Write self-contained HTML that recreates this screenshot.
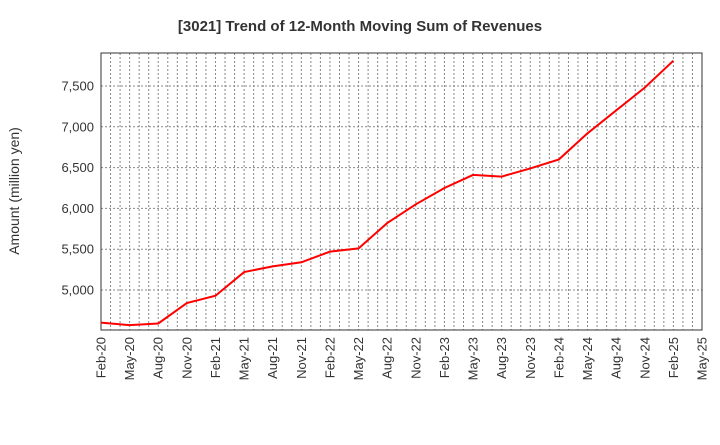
<!DOCTYPE html>
<html><head><meta charset="utf-8"><style>
body{margin:0;background:#fff;font-family:"Liberation Sans",sans-serif}
</style></head><body>
<svg id="chart" width="720" height="440" xmlns="http://www.w3.org/2000/svg">
<text x="360" y="31" text-anchor="middle" font-size="15" font-weight="bold" fill="#333">[3021]  Trend of 12-Month Moving Sum of Revenues</text>
<text transform="translate(19,191) rotate(-90)" text-anchor="middle" font-size="14" fill="#333">Amount (million yen)</text>
<g id="grid"></g><g id="axes"></g><g id="series"></g>
</svg>
<script>
const categories=["Feb-20","May-20","Aug-20","Nov-20","Feb-21","May-21","Aug-21","Nov-21","Feb-22","May-22","Aug-22","Nov-22","Feb-23","May-23","Aug-23","Nov-23","Feb-24","May-24","Aug-24","Nov-24","Feb-25"];
const revenues=[4600,4570,4590,4840,4930,5220,5290,5340,5470,5510,5820,6050,6250,6410,6390,6490,6600,6920,7200,7480,7810];
const xTickLabels=["Feb-20","May-20","Aug-20","Nov-20","Feb-21","May-21","Aug-21","Nov-21","Feb-22","May-22","Aug-22","Nov-22","Feb-23","May-23","Aug-23","Nov-23","Feb-24","May-24","Aug-24","Nov-24","Feb-25","May-25"];
const yTicks=[5000,5500,6000,6500,7000,7500];
const L=101,R=702,T=53,B=330,yMin=4510,yMax=7904;
const NS="http://www.w3.org/2000/svg";
const xq=i=>L+(R-L)*i/(xTickLabels.length-1);
const xm=m=>L+(R-L)*m/((xTickLabels.length-1)*3);
const y=v=>B-(v-yMin)/(yMax-yMin)*(B-T);
function mk(tag,attrs,parent){const e=document.createElementNS(NS,tag);for(const k in attrs)e.setAttribute(k,attrs[k]);document.getElementById(parent).appendChild(e);return e;}
for(let m=1;m<(xTickLabels.length-1)*3;m++){
 const g=mk("line",{x1:xm(m),x2:xm(m),y1:T,y2:B,stroke:"#888","stroke-dasharray":"2,2","stroke-width":1},"grid");
 
 
}
yTicks.forEach(v=>{
 const g=mk("line",{x1:L,x2:R,y1:y(v),y2:y(v),stroke:"#888","stroke-dasharray":"2,2","stroke-width":1},"grid");
 
 
 const t=mk("text",{x:L-7,y:y(v)+4.5,"text-anchor":"end","font-size":13,fill:"#333"},"axes");
 t.textContent=v.toLocaleString("en-US");
 
 
});
xTickLabels.forEach((s,i)=>{
 const t=mk("text",{transform:`translate(${xq(i)+4.5},${B+7}) rotate(-90)`,"text-anchor":"end","font-size":13,fill:"#333"},"axes");
 t.textContent=s;
 
 
});
const f=mk("rect",{x:L,y:T,width:R-L,height:B-T,fill:"none",stroke:"#333","stroke-width":1},"axes");


const p=mk("polyline",{points:revenues.map((v,i)=>xq(i)+","+y(v)).join(" "),fill:"none",stroke:"#f00","stroke-width":2},"series");


</script>
</body></html>
